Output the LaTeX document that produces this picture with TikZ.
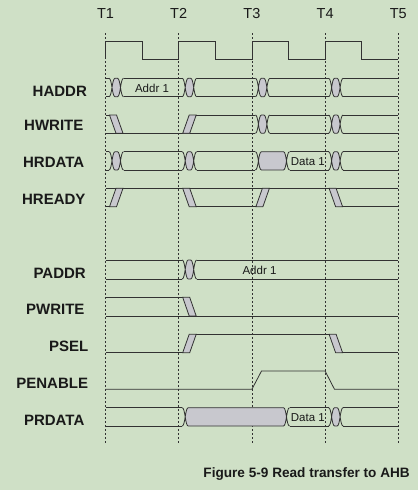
\documentclass[tikz,border=0pt]{standalone}
\usepackage{fontspec}
\setmainfont{Liberation Sans}
\definecolor{bgc}{RGB}{207,224,198}
\definecolor{gyc}{RGB}{200,200,206}
\definecolor{lnc}{RGB}{50,50,50}
\definecolor{txc}{RGB}{25,25,25}
\tikzset{
  sig/.style={draw=lnc, line width=0.8pt},
  tick/.style={draw=lnc, line width=0.6pt, dash pattern=on 2pt off 2pt},
  siglabel/.style={font=\fontsize{15}{15}\selectfont\bfseries, text=txc, inner sep=0pt, anchor=center},
  tlabel/.style={font=\fontsize{14.5}{14.5}\selectfont, text=txc, inner sep=0pt, anchor=base},
  vlabel/.style={font=\fontsize{11.5}{11.5}\selectfont, text=txc, inner sep=0pt, anchor=base},
  caplabel/.style={font=\fontsize{13.6}{13.6}\selectfont\bfseries, text=txc, inner sep=0pt, anchor=base east}
}
% bus transition: crossings at #1 and #2, top #3, bottom #4
\newcommand\busX[4]{%
  \pgfmathsetmacro\xxA{#1}\pgfmathsetmacro\xxB{#2}%
  \pgfmathsetmacro\yyT{#3}\pgfmathsetmacro\yyU{#4}%
  \pgfmathsetmacro\yyM{(#3+#4)/2}%
  \pgfmathsetmacro\yyP{(3*#3+#4)/4}%
  \pgfmathsetmacro\yyQ{(#3+3*#4)/4}%
  \fill[gyc] (\xxA,\yyM) .. controls (\xxA+0.75,\yyP) and (\xxA+1.5,\yyT) .. (\xxA+3,\yyT)
     -- (\xxB-3,\yyT) .. controls (\xxB-1.5,\yyT) and (\xxB-0.75,\yyP) .. (\xxB,\yyM)
     .. controls (\xxB-0.75,\yyQ) and (\xxB-1.5,\yyU) .. (\xxB-3,\yyU)
     -- (\xxA+3,\yyU) .. controls (\xxA+1.5,\yyU) and (\xxA+0.75,\yyQ) .. (\xxA,\yyM) -- cycle;
  \draw[sig] (\xxA-3,\yyT) .. controls (\xxA,\yyT) and (\xxA,\yyU) .. (\xxA+3,\yyU)
             (\xxA-3,\yyU) .. controls (\xxA,\yyU) and (\xxA,\yyT) .. (\xxA+3,\yyT)
             (\xxB-3,\yyT) .. controls (\xxB,\yyT) and (\xxB,\yyU) .. (\xxB+3,\yyU)
             (\xxB-3,\yyU) .. controls (\xxB,\yyU) and (\xxB,\yyT) .. (\xxB+3,\yyT)
             (\xxA+3,\yyT) -- (\xxB-3,\yyT) (\xxA+3,\yyU) -- (\xxB-3,\yyU);
}
% bus lines from #1 to #2, top #3, bottom #4
\newcommand\busL[4]{\draw[sig] (#1,#3) -- (#2,#3) (#1,#4) -- (#2,#4);}
% slanted transition (parallelogram) starting at #1, from level #2 to level #3
\newcommand\pgram[3]{\filldraw[fill=gyc, sig] (#1,#2) -- (#1+7,#2) -- (#1+13.5,#3) -- (#1+6.5,#3) -- cycle;}
\begin{document}
\begin{tikzpicture}[x=1pt, y=-1pt]
\fill[bgc] (0,0) rectangle (418,490);
\useasboundingbox (0,0) rectangle (418,490);

% time marks
\foreach \tx/\tn [count=\i] in {105.5/T1, 178.7/T2, 251.9/T3, 325.1/T4, 398.3/T5} {
  \node[tlabel] (t\i) at (\tx,18.3) {\tn};
  \draw[tick] (\tx,33) -- (\tx,443);
}

% clock
\draw[sig] (105.5,59) -- (105.5,41) -- (142.1,41) -- (142.1,59) -- (178.7,59) -- (178.7,41)
  -- (215.3,41) -- (215.3,59) -- (251.9,59) -- (251.9,41) -- (288.5,41) -- (288.5,59)
  -- (325.1,59) -- (325.1,41) -- (361.7,41) -- (361.7,59) -- (398.3,59);

% labels
\node[siglabel] (l1) at (59.8,91.7) {HADDR};
\node[siglabel] (l2) at (53.8,125.2) {HWRITE};
\node[siglabel] (l3) at (53.7,162.2) {HRDATA};
\node[siglabel] (l4) at (53.8,199.2) {HREADY};
\node[siglabel] (l5) at (59.7,273.8) {PADDR};
\node[siglabel] (l6) at (55.3,309.3) {PWRITE};
\node[siglabel] (l7) at (68.7,346.2) {PSEL};
\node[siglabel] (l8) at (52.2,383.3) {PENABLE};
\node[siglabel] (l9) at (54.2,420) {PRDATA};

% HADDR
\busL{105.5}{109}{78.3}{96.7}
\busX{112}{120.5}{78.3}{96.7}
\busL{123.5}{182.2}{78.3}{96.7}
\busX{185.2}{193.7}{78.3}{96.7}
\busL{196.7}{255.4}{78.3}{96.7}
\busX{258.4}{266.9}{78.3}{96.7}
\busL{269.9}{328.6}{78.3}{96.7}
\busX{331.6}{340.1}{78.3}{96.7}
\busL{343.1}{398.3}{78.3}{96.7}
\node[vlabel] (v1) at (152,92) {Addr 1};

% HWRITE
\draw[sig] (105.5,115) -- (109.5,115);
\pgram{109.5}{115}{133.3}
\draw[sig] (105.5,133.3) -- (255.4,133.3);
\pgram{182.7}{133.3}{115}
\draw[sig] (196.2,115) -- (255.4,115);
\busX{258.4}{266.9}{115}{133.3}
\busL{269.9}{328.6}{115}{133.3}
\busX{331.6}{340.1}{115}{133.3}
\busL{343.1}{398.3}{115}{133.3}

% HRDATA
\busL{105.5}{109}{151.7}{170}
\busX{112}{120.5}{151.7}{170}
\busL{123.5}{182.2}{151.7}{170}
\busX{185.2}{193.7}{151.7}{170}
\busL{196.7}{255.4}{151.7}{170}
\busX{258.4}{286.5}{151.7}{170}
\busL{289.5}{328.6}{151.7}{170}
\busX{331.6}{340.1}{151.7}{170}
\busL{343.1}{398.3}{151.7}{170}
\node[vlabel] (v2) at (307.8,165.7) {Data 1};

% HREADY
\draw[sig] (105.5,206.7) -- (109.5,206.7);
\draw[sig] (105.5,188.3) -- (398.3,188.3);
\pgram{109.5}{206.7}{188.3}
\pgram{182.7}{188.3}{206.7}
\draw[sig] (196.2,206.7) -- (255.9,206.7);
\pgram{255.9}{206.7}{188.3}
\pgram{329.1}{188.3}{206.7}
\draw[sig] (342.6,206.7) -- (398.3,206.7);

% PADDR
\busL{105.5}{182.2}{260}{279}
\busX{185.2}{193.7}{260}{279}
\busL{196.7}{398.3}{260}{279}
\node[vlabel] (v3) at (259.5,274.3) {Addr 1};

% PWRITE
\draw[sig] (105.5,297.3) -- (182.7,297.3);
\pgram{182.7}{297.3}{316}
\draw[sig] (105.5,316) -- (398.3,316);

% PSEL
\draw[sig] (105.5,352.7) -- (182.7,352.7);
\pgram{182.7}{352.7}{334.3}
\draw[sig] (196.2,334.3) -- (329.1,334.3);
\pgram{329.1}{334.3}{352.7}
\draw[sig] (342.6,352.7) -- (398.3,352.7);

% PENABLE
\draw[sig] (105.5,389.3) -- (251.9,389.3) -- (261.5,371) -- (325.1,371) -- (334.5,389.3) -- (398.3,389.3);

% PRDATA
\busL{105.5}{182.2}{407.7}{426}
\busX{185.2}{286.5}{407.7}{426}
\busL{289.5}{328.6}{407.7}{426}
\busX{331.6}{340.1}{407.7}{426}
\busL{343.1}{398.3}{407.7}{426}
\node[vlabel] (v4) at (307.8,421) {Data 1};

% caption
\node[caplabel] (cap) at (410,477.5) {Figure 5-9 Read transfer to AHB};
\end{tikzpicture}
\end{document}
